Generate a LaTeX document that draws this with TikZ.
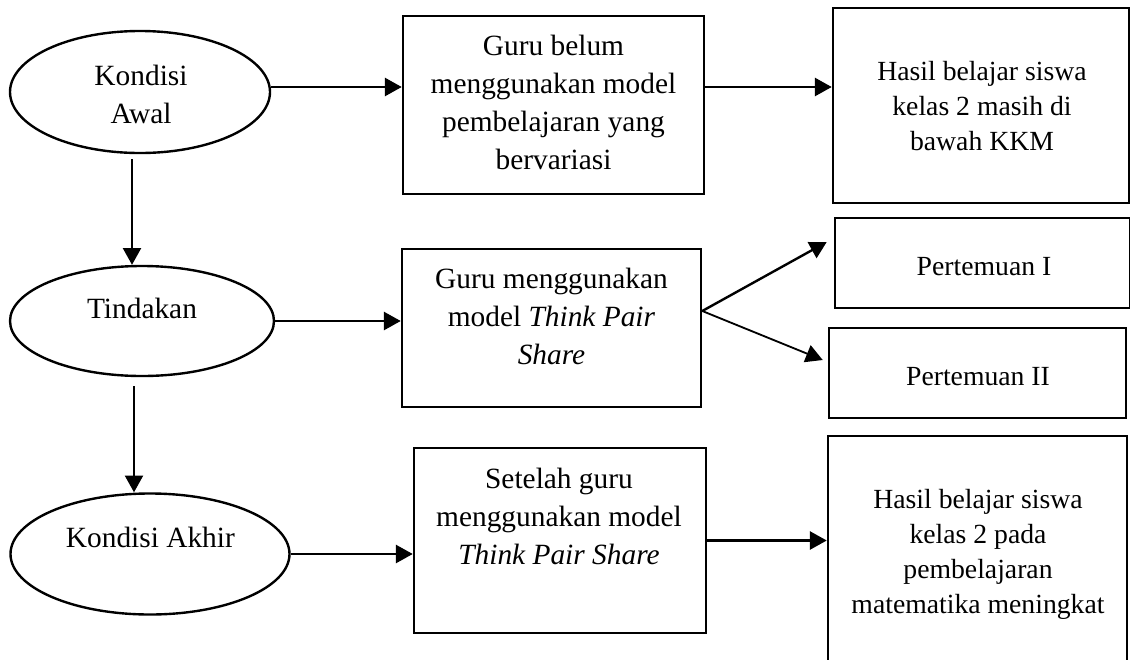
\documentclass[tikz,border=0pt]{standalone}
\usepackage{fontspec}
\setmainfont{Liberation Serif}
\usetikzlibrary{shapes}
\usetikzlibrary{arrows.meta}
\usetikzlibrary{positioning}
\tikzset{
    Oval/.style = {ellipse, draw=black, line width=1.7pt, inner sep=0pt}
}
\tikzset{
    Box/.style = {rectangle, draw=black, line width=1.8pt, inner sep=0pt}
}
\tikzset{
    Edge/.style = {draw=black, line width=1.7pt, -{Triangle[length=0.42cm,width=0.45cm]}}
}

\begin{document}
\begin{tikzpicture}[
    TxtL/.style = {align=center, inner sep=0pt, font=\fontsize{20.9}{27}\selectfont},
    TxtR/.style = {align=center, inner sep=0pt, font=\fontsize{19.7}{24.9}\selectfont}
]
\useasboundingbox (0,0) rectangle (28.25,-16.475);
% kondisi awal, tindakan, kondisi akhir
\node[Oval, minimum width=6.5cm, minimum height=3.05cm] at (3.5,-2.3) (E1) {};
\node[Oval, minimum width=6.6cm, minimum height=2.75cm] at (3.55,-8.025) (E2) {};
\node[Oval, minimum width=6.975cm, minimum height=3.025cm] at (3.75,-13.85) (E3) {};
\node[TxtL] at (3.525,-2.35) (t1) {Kondisi\\Awal};
\node[TxtL] at (3.55,-7.7) (t2) {Tindakan};
\node[TxtL] at (3.76,-13.425) (t3) {Kondisi Akhir};
% middle boxes
\node[Box, minimum width=7.525cm, minimum height=4.45cm] at (13.8375,-2.625) (B1) {};
\node[Box, minimum width=7.475cm, minimum height=3.95cm] at (13.7875,-8.2) (B2) {};
\node[Box, minimum width=7.3cm, minimum height=4.625cm] at (14,-13.5125) (B3) {};
\node[TxtL] at (13.8375,-2.5625) (t4) {Guru belum\\menggunakan model\\pembelajaran yang\\bervariasi};
\node[TxtL] at (13.7875,-7.9) (t5) {Guru menggunakan\\model \textit{Think Pair}\\\textit{Share}};
\node[TxtL] at (13.975,-12.9) (t6) {Setelah guru\\menggunakan model\\\textit{Think Pair Share}};
% right boxes
\node[Box, minimum width=7.4cm, minimum height=4.875cm] at (24.525,-2.6375) (H1) {};
\node[Box, minimum width=7.375cm, minimum height=2.25cm] at (24.5625,-6.575) (P1) {};
\node[Box, minimum width=7.425cm, minimum height=2.25cm] at (24.4375,-9.325) (P2) {};
\node[Box, minimum width=7.475cm, minimum height=6.1cm] at (24.4375,-13.95) (H2) {};
\node[TxtR] at (24.55,-2.65) (t7) {Hasil belajar siswa\\kelas 2 masih di\\bawah KKM};
\node[TxtR] at (24.6,-6.675) (t8) {Pertemuan I};
\node[TxtR] at (24.45,-9.425) (t9) {Pertemuan II};
\node[TxtR] at (24.45,-13.85) (t10) {Hasil belajar siswa\\kelas 2 pada\\pembelajaran\\matematika meningkat};
% connectors
\coordinate (r1) at (0,-2.175);
\coordinate (c1) at (3.3,0);
\coordinate (c2) at (3.35,0);
\draw[Edge] (E1.east |- r1) -- (B1.west |- r1);
\draw[Edge] (B1.east |- r1) -- (H1.west |- r1);
\draw[Edge] (E2.east) -- (B2.west |- E2.east);
\draw[Edge] (E3.east) -- (B3.west |- E3.east);
\draw[Edge] (B3.east) -- (H2.west |- B3.east);
\draw[Edge] ([yshift=0.425cm]B2.east) -- ([xshift=-0.175cm,yshift=0.525cm]P1.west);
\draw[Edge, line width=1.3pt] ([yshift=0.425cm]B2.east) -- ([xshift=-0.125cm,yshift=0.325cm]P2.west);
\draw[Edge] ([yshift=-0.125cm]E1.south -| c1) -- (c1 |- E2.north);
\draw[Edge] ([yshift=-0.225cm]E2.south -| c2) -- (c2 |- E3.north);
\end{tikzpicture}
\end{document}
